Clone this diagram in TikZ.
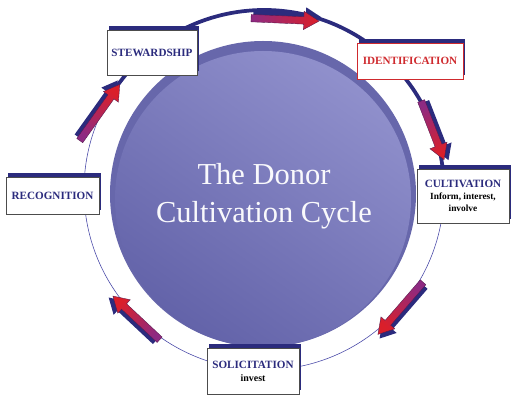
\documentclass[tikz,border=0pt]{standalone}
\usepackage{fontspec}
\setmainfont{Liberation Serif}
\usetikzlibrary{shapes.arrows,shadows}

\definecolor{navy}{HTML}{2B2B7D}
\definecolor{idred}{HTML}{CF2A2E}
\definecolor{ringblue}{HTML}{4A4AA8}
\definecolor{diskrim}{HTML}{6767AB}
\definecolor{diskhi}{HTML}{9090CC}
\definecolor{disklo}{HTML}{6363A9}
\definecolor{arrowhead}{HTML}{DA1F2A}
\definecolor{arrowtail}{HTML}{8E2A82}

\begin{document}
\begin{tikzpicture}[x=0.03cm, y=-0.03cm,
  stage/.style={draw=black!70, fill=white, line width=0.4pt, align=center,
    inner sep=2pt, text=navy, font=\bfseries\fontsize{9.5}{11}\selectfont,
    drop shadow={shadow xshift=1.7pt, shadow yshift=3.4pt, fill=navy, opacity=1}},
  cyclearrow/.style={single arrow, minimum height=#1*0.03cm, inner xsep=0pt,
    inner ysep=3.5*0.03cm, text height=0pt, text depth=0pt,
    single arrow head extend=5.5*0.03cm, single arrow tip angle=62},
  ringthin/.style={draw=ringblue, line width=0.5pt},
  ringthick/.style={draw=navy, line width=3.2pt}]
  \useasboundingbox (0,0) rectangle (518,402);

  % the disk in the middle
  \coordinate (ctr) at (263,194);
  \fill[diskrim] (ctr) circle[radius=153];
  \shade[top color=diskhi, bottom color=disklo, shading angle=-35]
    ([yshift=-5*0.03cm]ctr) circle[radius=148];
  \node[text=white!95!diskhi, align=center, font=\fontsize{26}{32}\selectfont]
    (title) at (264,196) {The Donor\\Cultivation Cycle};

  % the cycle
  \coordinate (rc) at (264,190);
  \draw[ringthin] (rc) circle[radius=180];
  \draw[ringthick] ([shift={(-5:180)}]rc) arc[start angle=-5, end angle=-150, radius=180];

  \foreach \x/\y/\len/\ang [count=\i] in {282/19.5/68/-2.5, 431.5/127.5/63/-68.7,
      402.5/306/69/-130.9, 138.5/320/64/136.9, 98/115/69/54.5} {
    \node[cyclearrow=\len, rotate=\ang, fill=navy, xshift=1.7pt, yshift=3.4pt]
      (arr\i s) at (\x,\y) {};
    \node[cyclearrow=\len, rotate=\ang, draw=arrowtail!60!black, line width=0.3pt,
      left color=arrowtail, right color=arrowhead, shading angle={90+\ang}]
      (arr\i) at (\x,\y) {};
  }

  % the stages
  \node[stage, minimum width=2.7cm, minimum height=1.35cm] (steward) at (152,52.5) {STEWARDSHIP};
  \node[stage, draw=idred, text=idred, minimum width=3.18cm, minimum height=1.08cm]
    (ident) at (410,61) {IDENTIFICATION};
  \node[stage, minimum width=2.76cm, minimum height=1.62cm] (cultiv) at (463,196)
    {CULTIVATION\\[-1pt]{\color{black}\fontsize{8}{10}\selectfont Inform, interest,}\\
     {\color{black}\fontsize{8}{10}\selectfont involve}};
  \node[stage, minimum width=2.79cm, minimum height=1.11cm] (recog) at (52.5,195.5) {RECOGNITION};
  \node[stage, minimum width=2.76cm, minimum height=1.38cm] (solicit) at (253,371)
    {SOLICITATION\\{\color{black}\fontsize{8.5}{10}\selectfont invest}};
\end{tikzpicture}
\end{document}
